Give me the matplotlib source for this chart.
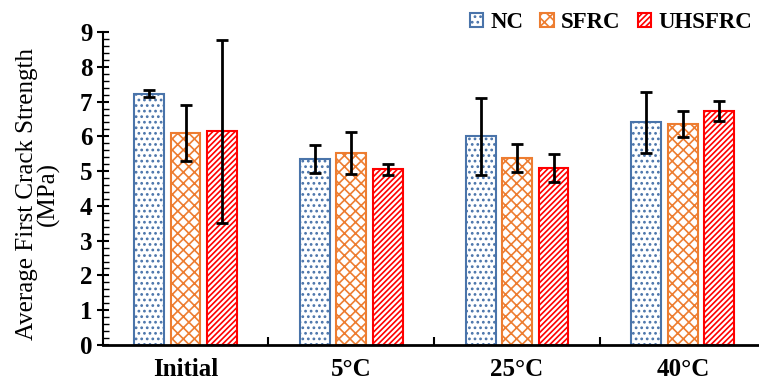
import matplotlib
matplotlib.use("Agg")
import matplotlib.pyplot as plt
import numpy as np
from matplotlib.ticker import MultipleLocator, FixedLocator

plt.rcParams['font.family'] = ['Liberation Serif', 'DejaVu Serif']
plt.rcParams['hatch.linewidth'] = 1.2

categories = ["Initial", "5°C", "25°C", "40°C"]
series = ["NC", "SFRC", "UHSFRC"]
nc = [7.22, 5.35, 6.00, 6.40]
nc_err = [0.10, 0.40, 1.10, 0.87]
sfrc = [6.10, 5.52, 5.38, 6.35]
sfrc_err = [0.80, 0.60, 0.40, 0.38]
uhsfrc = [6.15, 5.05, 5.10, 6.73]
uhsfrc_err = [2.63, 0.15, 0.40, 0.30]

values = [nc, sfrc, uhsfrc]
errors = [nc_err, sfrc_err, uhsfrc_err]
colors = ["#4A74AA", "#ED7D31", "#FF0000"]
hatches = ["...", "xxx", "//////"]

fig = plt.figure(figsize=(7.59, 3.85), dpi=100)
ax = fig.add_axes([102.7/759, 40/385, 663/759, 313/385])

x = np.arange(len(categories))
width = 0.18
offsets = [-0.22, 0.0, 0.22]
for vals, errs, c, h, off, name in zip(values, errors, colors, hatches, offsets, series):
    ax.bar(x + off, vals, width, facecolor="white", edgecolor=c, hatch=h,
           linewidth=1.5, label=name, zorder=2)
    ax.errorbar(x + off, vals, yerr=errs, fmt="none", ecolor="black",
                elinewidth=2, capsize=4.5, capthick=2, zorder=3)

ax.set_xlim(-0.5, len(categories) - 0.5)
ax.set_ylim(0, 9)
ax.yaxis.set_major_locator(MultipleLocator(1))
ax.yaxis.set_minor_locator(MultipleLocator(0.2))
ax.set_xticks(x)
ax.set_xticklabels(categories, fontsize=18, fontweight="bold")
ax.xaxis.set_minor_locator(FixedLocator(np.arange(0.5, len(categories) - 0.5, 1)))
ax.tick_params(axis="x", which="major", length=0, pad=9)
ax.tick_params(axis="x", which="minor", direction="in", length=6, width=1.5)
ax.tick_params(axis="y", which="major", direction="inout", length=9, width=1.5,
               labelsize=18, pad=3)
ax.tick_params(axis="y", which="minor", direction="in", length=4, width=1)
for lab in ax.get_yticklabels():
    lab.set_fontweight("bold")
for s in ["top", "right"]:
    ax.spines[s].set_visible(False)
ax.spines["left"].set_linewidth(1.5)
ax.spines["bottom"].set_linewidth(2)

ax.set_ylabel("Average First Crack Strength\n(MPa)", fontsize=18, linespacing=0.95,
              labelpad=14)
ax.yaxis.label.set_y(0.484)

leg = fig.legend(loc="upper right", bbox_to_anchor=(752/759, 1 - 12/385), ncol=3,
                 frameon=False, borderpad=0, borderaxespad=0,
                 prop={"size": 16.5, "weight": "bold"}, handlelength=0.6, handleheight=0.6,
                 handletextpad=0.3, columnspacing=0.75)

fig.savefig("out.png", dpi=100)
